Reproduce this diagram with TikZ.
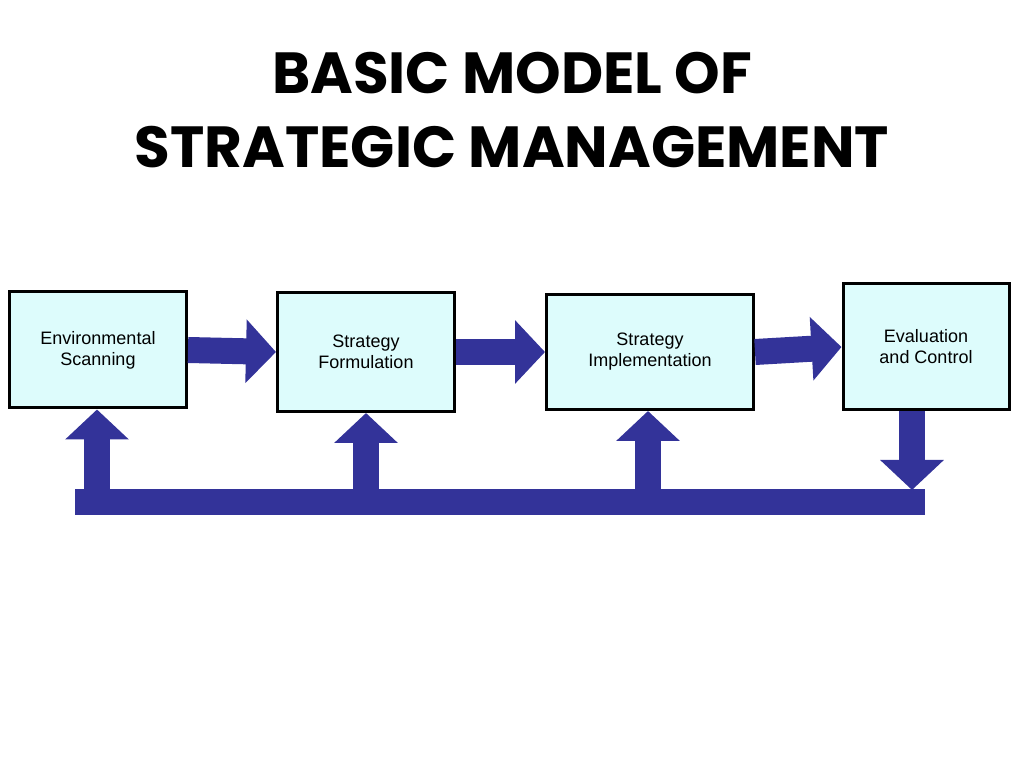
\documentclass[tikz,border=0pt]{standalone}
\usepackage{fontspec}
\setmainfont{Liberation Sans}
\newfontfamily\titlefont{Poppins}
\usetikzlibrary{arrows.meta}
\definecolor{boxfill}{HTML}{DDFCFC}
\definecolor{arrowblue}{HTML}{333399}
\begin{document}
\begin{tikzpicture}[x=1pt,y=1pt,
  box/.style={draw=black,line width=3pt,fill=boxfill,align=center,font=\fontsize{18}{21}\selectfont,inner sep=0pt},
  fat/.style={arrowblue,line width=26pt,-{Triangle[width=62pt,length=30pt]}},
  bar/.style={arrowblue,line width=26pt}]
\useasboundingbox (0,0) rectangle (1024,768);
\node[font=\titlefont\bfseries\fontsize{58}{74}\selectfont,align=center] (title) at (512,658) {BASIC MODEL OF\\STRATEGIC MANAGEMENT};
\node[box,minimum width=177pt,minimum height=116pt] (b1) at (98,418) {Environmental\\Scanning};
\node[box,minimum width=177pt,minimum height=119pt] (b2) at (366,416) {Strategy\\Formulation};
\node[box,minimum width=207pt,minimum height=115pt] (b3) at (650,416) {Strategy\\Implementation};
\node[box,minimum width=166pt,minimum height=126pt] (b4) at (926,421) {Evaluation\\and Control};
\draw[fat] (b1.east) -- (b2.west);
\draw[fat] (b2.east) -- (b3.west);
\draw[fat] (b3.east) -- (b4.west);
\coordinate (bl) at (75,266);
\coordinate (br) at (925,266);
\coordinate (d4) at (912,278);
\coordinate (u1) at (97,266);
\coordinate (u2) at (366,266);
\coordinate (u3) at (648,266);
\draw[bar] (bl) -- (br);
\draw[fat] (d4 |- b4.south) -- (d4);
\draw[fat] (u1) -- (u1 |- b1.south);
\draw[fat] (u2) -- (u2 |- b2.south);
\draw[fat] (u3) -- (u3 |- b3.south);
\end{tikzpicture}
\end{document}
